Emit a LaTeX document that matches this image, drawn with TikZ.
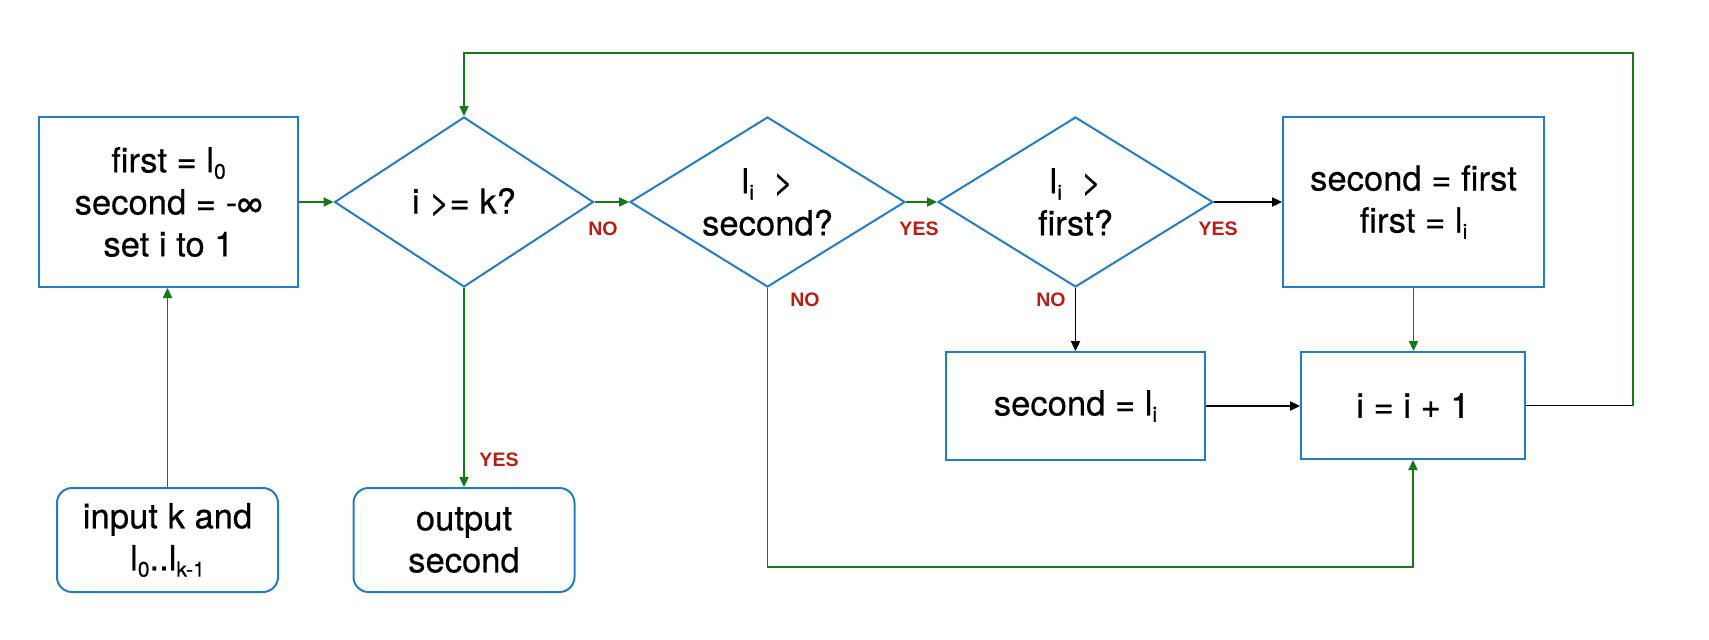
\documentclass[tikz,border=0pt]{standalone}
\usepackage{fontspec}
\setmainfont{Liberation Sans}
\newfontfamily\diagfont{TeX Gyre Heros}[FakeBold=0.45]
\usetikzlibrary{shapes.geometric,arrows.meta}
\definecolor{boxblue}{RGB}{36,125,194}
\definecolor{flowgreen}{RGB}{22,120,22}
\definecolor{labred}{RGB}{185,28,18}
\newcommand{\sbs}[1]{\raisebox{-0.35ex}{\fontsize{10.5}{10.5}\selectfont #1}}
\begin{document}
\begin{tikzpicture}[x=0.5pt,y=-0.5pt,
  font=\diagfont\fontsize{17.3}{21}\selectfont,
  procbox/.style={draw=boxblue,line width=1pt,rectangle,align=center,inner sep=0pt},
  termbox/.style={procbox,rounded corners=7.5pt},
  decision/.style={draw=boxblue,line width=1pt,diamond,shape aspect=1.62,inner sep=0pt,align=center},
  gline/.style={draw=flowgreen,line width=0.8pt},
  bline/.style={draw=black,line width=0.8pt},
  tip/.style={-{Triangle[length=5pt,width=4.6pt]}},
  lab/.style={text=labred,font=\rmfamily\bfseries\fontsize{9.75}{10}\selectfont,inner sep=0pt}]
\useasboundingbox (0,0) rectangle (1709,639);

\node[procbox,minimum width=129.5pt,minimum height=85pt] (init) at (168.5,202) {first = l\sbs{0}\\second = -∞\\set i to 1};
\node[decision,minimum width=129.5pt,minimum height=85pt] (d1) at (464,202) {i >= k?};
\node[decision,minimum width=137.5pt,minimum height=85pt] (d2) at (767.5,202) {l\sbs{i}\ \ >\\second?};
\node[decision,minimum width=137.5pt,minimum height=85pt] (d3) at (1075.5,202) {l\sbs{i}\ \ >\\first?};
\node[procbox,minimum width=130.5pt,minimum height=85pt] (b2) at (1413.5,202) {second = first\\first = l\sbs{i}};
\node[procbox,minimum width=129.5pt,minimum height=54pt] (b3) at (1075.5,406) {second = l\sbs{i}};
\node[procbox,minimum width=112pt,minimum height=53.5pt] (b4) at (1413,405.5) {i = i + 1};
\node[termbox,minimum width=110.5pt,minimum height=52pt] (in) at (167.5,540) {input k and\\l\sbs{0}..l\sbs{k-1}};
\node[termbox,minimum width=110.5pt,minimum height=52pt] (out) at (464,540) {output\\second};

\coordinate (bl) at (1413,567);
\coordinate (rt) at (1633,406);
\coordinate (tp) at (1633,53);

\draw[gline,tip] (in.north) -- (in.north |- init.south);
\draw[gline,tip] (init.east) -- (d1.west);
\draw[gline,tip] (d1.south) -- (out.north);
\draw[gline,tip] (d1.east) -- (d2.west);
\draw[gline,tip] (d2.east) -- (d3.west);
\draw[bline,tip] (d3.east) -- (b2.west);
\draw[bline,tip] (d3.south) -- (b3.north);
\draw[gline,tip] (d2.south) |- (bl) -- (b4.south);
\draw[gline,tip] (b2.south) -- (b2.south |- b4.north);
\draw[bline,tip] (b3.east) -- (b3.east -| b4.west);
\draw[bline] (b4.east) -- (b4.east -| rt);
\draw[gline,tip] (rt) -- (tp) -| (d1.north);

\node[lab] (yesA) at (499,460) {YES};
\node[lab] (noA) at (603,229) {NO};
\node[lab] (yesB) at (919,229) {YES};
\node[lab] (yesC) at (1218,229) {YES};
\node[lab] (noB) at (1051,300) {NO};
\node[lab] (noC) at (805,300) {NO};
\end{tikzpicture}
\end{document}
